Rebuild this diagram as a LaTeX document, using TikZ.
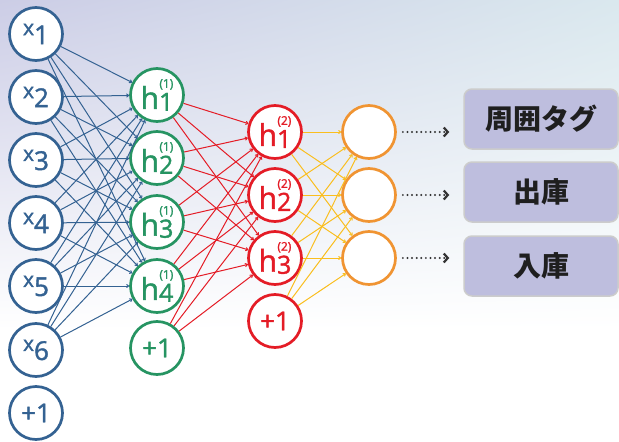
\documentclass[tikz,border=0pt]{standalone}
\usepackage{fontspec}
\setmainfont{Open Sans}
\newfontfamily\labfont{Open Sans}[FakeBold=1.5]
\newfontfamily\jpfont{Noto Sans CJK JP}
\usepackage{tikz}
\usetikzlibrary{arrows.meta,positioning,shadings}
\definecolor{inblue}{RGB}{52,98,146}
\definecolor{hgreen}{RGB}{38,148,98}
\definecolor{hred}{RGB}{228,28,38}
\definecolor{outorange}{RGB}{240,148,50}
\definecolor{wyellow}{RGB}{250,190,30}
\definecolor{boxfill}{RGB}{190,190,222}
\definecolor{bgleft}{RGB}{204,205,230}
\definecolor{bgright}{RGB}{218,232,238}
\newcommand{\xlab}[1]{\raisebox{9pt}{\fontsize{21}{21}\selectfont x}{\fontsize{26}{26}\selectfont #1}}
\newcommand{\hlab}[2]{{\fontsize{30}{30}\selectfont h}\raisebox{-2pt}{\fontsize{25}{25}\selectfont #2}\llap{\raisebox{21pt}{\fontsize{12}{12}\selectfont(#1)}}}

\begin{document}
\begin{tikzpicture}[x=1pt,y=-1pt,
  neuron/.style={circle, draw, fill=white, line width=2.7pt, minimum size=53pt, inner sep=0pt, font=\labfont\fontsize{26}{26}\selectfont},
  inunit/.style={neuron, draw=inblue, text=inblue},
  hunit/.style={neuron, draw=hgreen, text=hgreen},
  gunit/.style={neuron, draw=hred, text=hred},
  outunit/.style={neuron, draw=outorange},
  wire/.style={line width=1pt, -{To[length=3pt,width=4pt]}},
  dotarrow/.style={line width=2.2pt, draw=black!80, line cap=round, dash pattern=on 0pt off 4.6pt, -{Straight Barb[length=4pt,width=9pt,line width=2.2pt]}},
  tagbox/.style={rounded corners=8pt, fill=boxfill, draw=black!20, line width=1.5pt, minimum width=154pt, minimum height=60pt, text=black!88, font=\jpfont\bfseries\fontsize{28}{28}\selectfont}]
\useasboundingbox (0,0) rectangle (619,442);
% background
\fill[white] (0,0) rectangle (619,442);
\shade[upper left=bgleft, upper right=bgright, lower left=white, lower right=white] (0,0) rectangle (619,330);

% input layer
\node[inunit] (in1) at (36,34) {\xlab{1}};
\node[inunit] (in2) at (36,97) {\xlab{2}};
\node[inunit] (in3) at (36,160) {\xlab{3}};
\node[inunit] (in4) at (36,223) {\xlab{4}};
\node[inunit] (in5) at (36,286) {\xlab{5}};
\node[inunit] (in6) at (36,350) {\xlab{6}};
\node[inunit] (inb) at (36,413) {+1};

% first hidden layer
\node[hunit] (ha1) at (157,95) {\hlab{1}{1}};
\node[hunit] (ha2) at (157,158) {\hlab{1}{2}};
\node[hunit] (ha3) at (157,222) {\hlab{1}{3}};
\node[hunit] (ha4) at (157,286) {\hlab{1}{4}};
\node[hunit] (hab) at (157,348) {+1};

% second hidden layer
\node[gunit] (hb1) at (275,132) {\hlab{2}{1}};
\node[gunit] (hb2) at (275,195) {\hlab{2}{2}};
\node[gunit] (hb3) at (275,258) {\hlab{2}{3}};
\node[gunit] (hbb) at (275,321) {+1};

% output layer
\node[outunit] (out1) at (369,132) {};
\node[outunit] (out2) at (369,195) {};
\node[outunit] (out3) at (369,258) {};

% classes
\node[tagbox] (tag1) at (541,119) {周囲タグ};
\node[tagbox] (tag2) at (541,192) {出庫};
\node[tagbox] (tag3) at (541,266) {入庫};

% weights
\foreach \i in {in1,in2,in3,in4,in5,in6}
  \foreach \j in {ha1,ha2,ha3,ha4}
    \draw[wire, inblue] (\i) -- (\j);
\foreach \i in {ha1,ha2,ha3,ha4,hab}
  \foreach \j in {hb1,hb2,hb3}
    \draw[wire, hred] (\i) -- (\j);
\foreach \i in {hb1,hb2,hb3,hbb}
  \foreach \j in {out1,out2,out3}
    \draw[wire, wyellow] (\i) -- (\j);

% outputs to classes
\draw[dotarrow, shorten <=6pt, shorten >=14pt] (out1) -- (out1 -| tag1.west);
\draw[dotarrow, shorten <=6pt, shorten >=14pt] (out2) -- (out2 -| tag2.west);
\draw[dotarrow, shorten <=6pt, shorten >=14pt] (out3) -- (out3 -| tag3.west);
\end{tikzpicture}
\end{document}
